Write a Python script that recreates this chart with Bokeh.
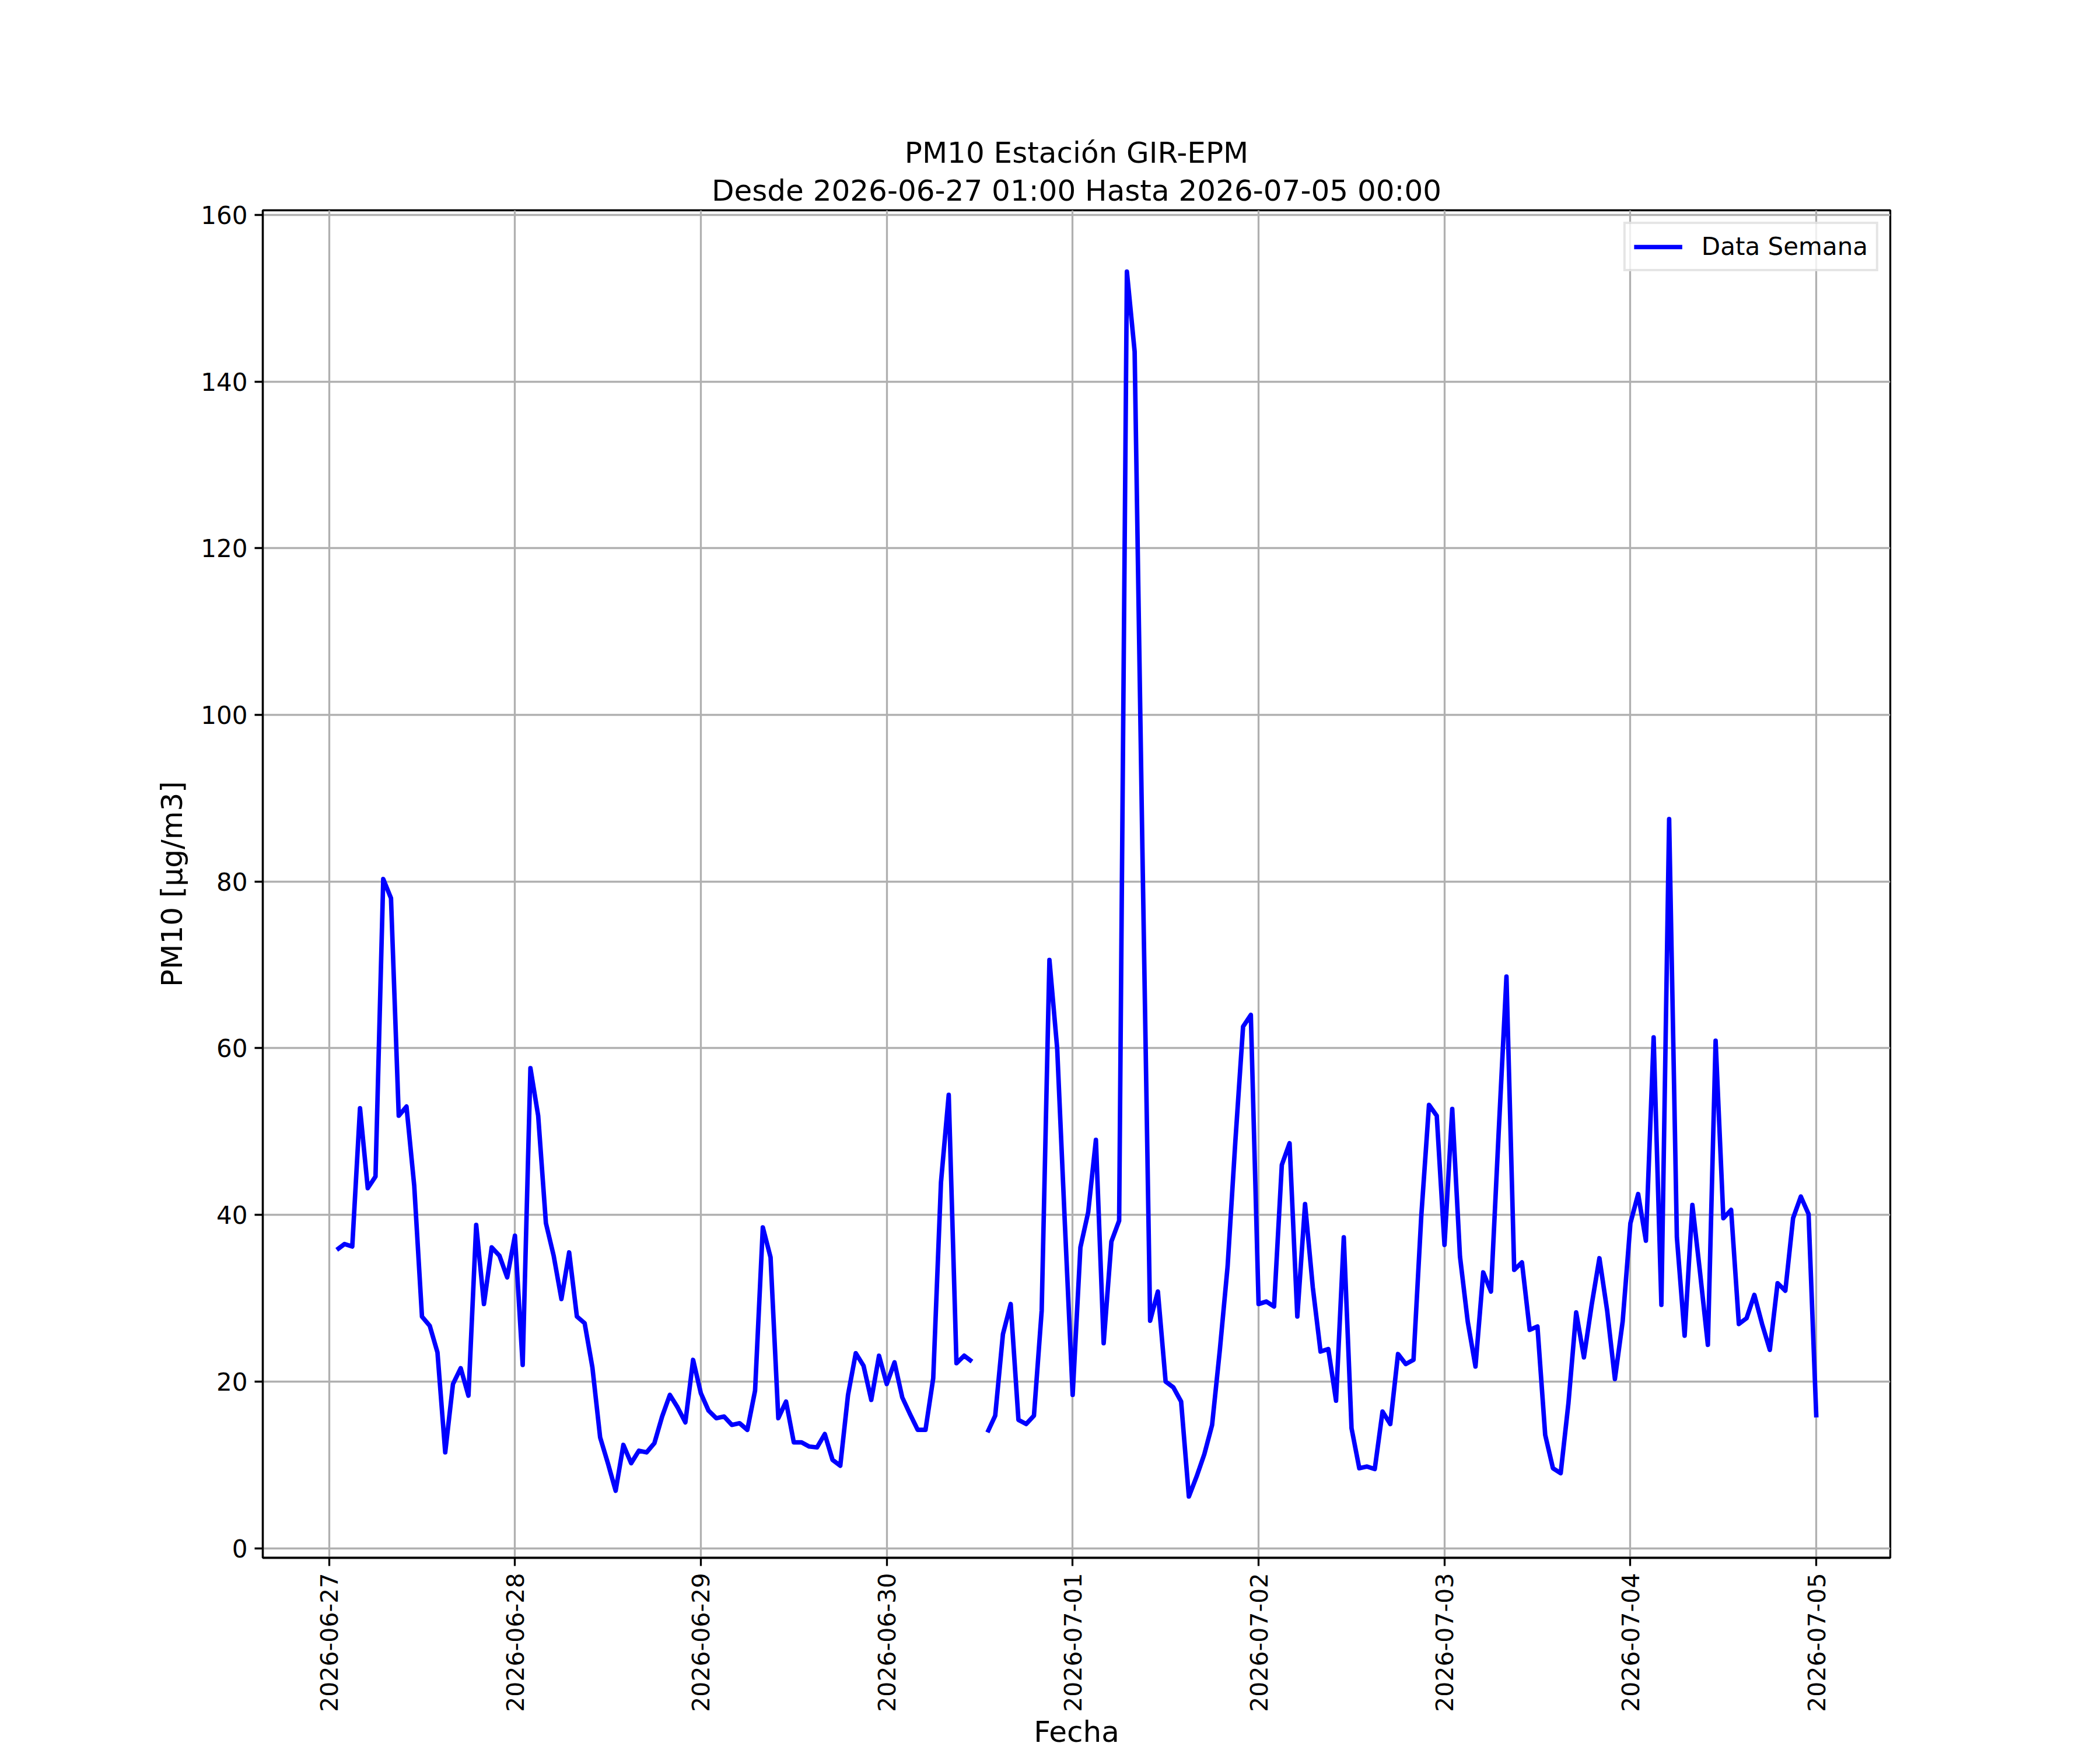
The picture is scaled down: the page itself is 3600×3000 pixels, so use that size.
import math
import numpy as np
import pandas as pd
from bokeh.plotting import figure
from bokeh.models import (Range1d, FixedTicker, DatetimeTickFormatter, Title,
                          Legend, LegendItem)
from bokeh.embed import file_html
from bokeh.resources import INLINE

# ---------------- data ----------------
title_main = "PM10 Estación GIR-EPM"
title_sub = "Desde 2026-06-27 01:00 Hasta 2026-07-05 00:00"
series_name = "Data Semana"
x_label = "Fecha"
y_label = "PM10 [μg/m3]"

start_time = "2026-06-27 01:00"
n_hours = 192

day1 = [35.8, 36.5, 36.2, 52.8, 43.2, 44.6, 80.3, 78.0, 51.9, 53.0, 43.5, 27.8,
        26.7, 23.5, 11.5, 19.7, 21.6, 18.3, 38.8, 29.3, 36.1, 35.1, 32.5, 37.5]
day2 = [22.0, 57.6, 51.9, 39.0, 35.1, 29.9, 35.5, 27.8, 27.0, 21.7, 13.3, 10.2,
        6.9, 12.4, 10.2, 11.7, 11.5, 12.6, 15.8, 18.4, 16.9, 15.1, 22.6, 18.6]
day3 = [16.5, 15.6, 15.8, 14.8, 15.0, 14.2, 18.9, 38.5, 34.9, 15.6, 17.6, 12.7,
        12.7, 12.2, 12.1, 13.7, 10.6, 9.9, 18.4, 23.4, 21.9, 17.8, 23.1, 19.7]
day4 = [22.3, 18.1, 16.1, 14.2, 14.2, 20.4, 43.9, 54.4, 22.2, 23.1, 22.4, float("nan"),
        13.9, 15.9, 25.7, 29.3, 15.4, 14.9, 15.9, 28.5, 70.6, 60.0, 38.8, 18.4]
day5 = [36.1, 40.3, 49.0, 24.6, 36.8, 39.3, 153.2, 143.6, 84.0, 27.3, 30.8, 20.0,
        19.3, 17.6, 6.2, 8.6, 11.3, 14.8, 23.8, 33.8, 48.8, 62.6, 64.0, 29.3]
day6 = [29.6, 29.0, 46.0, 48.6, 27.8, 41.3, 31.3, 23.6, 23.9, 17.7, 37.3, 14.4,
        9.6, 9.8, 9.5, 16.4, 14.9, 23.3, 22.1, 22.6, 39.8, 53.2, 51.9, 36.4]
day7 = [52.7, 35.0, 27.2, 21.8, 33.1, 30.8, 50.0, 68.6, 33.4, 34.3, 26.2, 26.6,
        13.6, 9.6, 9.0, 17.4, 28.3, 22.9, 29.2, 34.8, 28.5, 20.3, 27.2, 39.0]
day8 = [42.5, 36.9, 61.3, 29.2, 87.5, 37.3, 25.5, 41.2, 33.0, 24.4, 60.9, 39.6,
        40.6, 26.9, 27.6, 30.4, 26.9, 23.8, 31.8, 30.9, 39.6, 42.2, 40.1, 15.7]

x_tick_dates = ["2026-06-27", "2026-06-28", "2026-06-29", "2026-06-30",
                "2026-07-01", "2026-07-02", "2026-07-03", "2026-07-04", "2026-07-05"]
y_ticks = [0, 20, 40, 60, 80, 100, 120, 140, 160]

# ---------------- build ----------------
times = pd.date_range(start_time, periods=n_hours, freq="h")
values = np.array(day1 + day2 + day3 + day4 + day5 + day6 + day7 + day8, dtype=float)

xmin, xmax = times[0], times[-1]
xpad = (xmax - xmin) * 0.05
ymin, ymax = np.nanmin(values), np.nanmax(values)
ypad = (ymax - ymin) * 0.05

FONT = "DejaVu Sans"

p = figure(width=3584, height=3000, x_axis_type="datetime",
           output_backend="svg", toolbar_location=None,
           x_range=Range1d((xmin - xpad).to_pydatetime(), (xmax + xpad).to_pydatetime()),
           y_range=Range1d(ymin - ypad, ymax + ypad),
           min_border_left=450, min_border_right=344,
           min_border_top=360, min_border_bottom=330,
           title=title_main)

p.background_fill_color = "white"
p.border_fill_color = "white"
p.outline_line_color = "black"
p.outline_line_width = 3.3
p.outline_line_alpha = 1.0

# titles (added Title sits next to the frame, figure title above it)
p.title.text_font = FONT
p.title.text_font_size = "50px"
p.title.text_font_style = "normal"
p.title.text_color = "black"
p.title.align = "center"
p.title.standoff = 2
p.add_layout(Title(text=title_sub, align="center", text_font=FONT,
                   text_font_size="50px", text_font_style="normal",
                   text_color="black", standoff=9), "above")

# line
r = p.line(times, values, line_color="#0000ff", line_width=7.7, line_join="round")

# axes
tick_ms = [pd.Timestamp(d).value // 10**6 for d in x_tick_dates]
p.xaxis.ticker = FixedTicker(ticks=tick_ms, minor_ticks=[])
fmt = "%Y-%m-%d"
p.xaxis.formatter = DatetimeTickFormatter(
    microseconds=fmt, milliseconds=fmt, seconds=fmt, minsec=fmt, minutes=fmt,
    hourmin=fmt, hours=fmt, days=fmt, months=fmt, years=fmt)
p.xaxis.major_label_orientation = math.pi / 2
p.yaxis.ticker = FixedTicker(ticks=y_ticks, minor_ticks=[])

for ax in (p.xaxis, p.yaxis):
    ax.axis_line_color = "black"
    ax.axis_line_width = 3.3
    ax.major_tick_line_color = "black"
    ax.major_tick_line_width = 3.3
    ax.major_tick_out = 14
    ax.major_tick_in = 0
    ax.minor_tick_out = 0
    ax.minor_tick_in = 0
    ax.major_label_text_font = FONT
    ax.major_label_text_font_size = "42px"
    ax.major_label_text_color = "black"
    ax.major_label_standoff = 12
    ax.axis_label_text_font = FONT
    ax.axis_label_text_font_size = "50px"
    ax.axis_label_text_font_style = "normal"
    ax.axis_label_text_color = "black"

p.xaxis.major_label_text_font_size = "41px"
p.xaxis.major_label_standoff = 12
p.xaxis.axis_label = x_label
p.xaxis.axis_label_standoff = 2
p.yaxis.axis_label = y_label
p.yaxis.axis_label_standoff = 17

# grid
for g in (p.xgrid, p.ygrid):
    g.grid_line_color = "#b0b0b0"
    g.grid_line_width = 3.3
    g.grid_line_alpha = 1.0

# legend
legend = Legend(items=[LegendItem(label=series_name, renderers=[r])],
                location="top_right", margin=20, padding=14, spacing=0,
                glyph_width=83, glyph_height=44, label_height=44,
                label_standoff=33, label_text_font=FONT,
                label_text_font_size="42px", label_text_color="black",
                border_line_color="#cccccc", border_line_width=4,
                background_fill_color="white", background_fill_alpha=0.8)
p.add_layout(legend)

open("out.html", "w").write(file_html(p, INLINE))
